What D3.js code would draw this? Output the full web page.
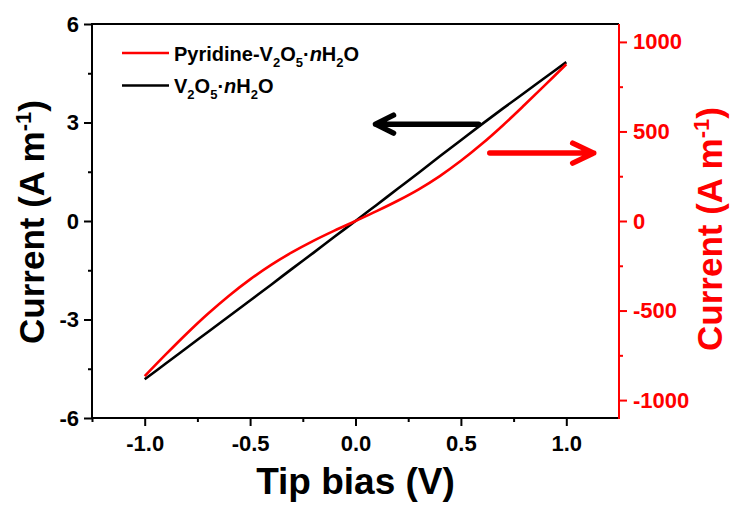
<!DOCTYPE html>
<html>
<head>
<meta charset="utf-8">
<script src="https://cdn.jsdelivr.net/npm/d3@7"></script>
<style>
  html, body { margin: 0; padding: 0; background: #fff; }
  svg { display: block; font-family: 'Liberation Sans', Arial, sans-serif; font-weight: bold; }
</style>
</head>
<body>
<svg id="chart" width="731" height="506"></svg>
<script>
// ── data ─────────────────────────────────────────
const bias = [-1, -0.9, -0.8, -0.7, -0.6, -0.5, -0.4, -0.3, -0.2, -0.1, 0,
              0.1, 0.2, 0.3, 0.4, 0.5, 0.6, 0.7, 0.8, 0.9, 1];
// V2O5·nH2O, left axis (A m-1)
const currentPlain = [-4.82, -4.34, -3.86, -3.38, -2.9, -2.42, -1.94, -1.45, -0.97, -0.48, 0,
                      0.49, 0.98, 1.47, 1.97, 2.46, 2.95, 3.43, 3.9, 4.37, 4.84];
// Pyridine-V2O5·nH2O, right axis (A m-1)
const currentPyr = [-866, -745, -628, -518, -417, -326, -245, -174, -111, -54, 0,
                    55, 113, 177, 251, 336, 431, 535, 646, 760, 875];

const xTicks = [-1, -0.5, 0, 0.5, 1];
const xMinor = [-1.25, -0.75, -0.25, 0.25, 0.75];
const yLeftTicks = [-6, -3, 0, 3, 6];
const yLeftMinor = [-4.5, -1.5, 1.5, 4.5];
const yRightTicks = [-1000, -500, 0, 500, 1000];
const yRightMinor = [-750, -250, 250, 750];

// ── layout ───────────────────────────────────────
const L = 92, R = 619, T = 24, B = 418;
const RED = '#ff0000';
const FONT = "'Liberation Sans', Arial, sans-serif";

const svg = d3.select('#chart');

const x = d3.scaleLinear().domain([-1.25, 1.25]).range([L, R]);
const yL = d3.scaleLinear().domain([-6, 6]).range([B, T]);
const yR = d3.scaleLinear().domain([-1100, 1100]).range([B, T]);

// ── axes ─────────────────────────────────────────
function styleAxis(g, color, size) {
	g.select('.domain').remove();
	g.selectAll('line').attr('stroke', color).attr('stroke-width', 2);
	g.selectAll('text').attr('fill', color).attr('font-size', size)
		.attr('font-family', FONT).attr('font-weight', 'bold');
}

svg.append('g').attr('transform', `translate(0,${B})`)
	.call(d3.axisBottom(x).tickValues(xMinor).tickSize(4).tickFormat(''))
	.call(g => styleAxis(g, '#000', 0));
svg.append('g').attr('transform', `translate(0,${B})`)
	.call(d3.axisBottom(x).tickValues(xTicks).tickSize(8).tickPadding(9).tickFormat(d => d.toFixed(1)))
	.call(g => styleAxis(g, '#000', 22));

svg.append('g').attr('transform', `translate(${L},0)`)
	.call(d3.axisLeft(yL).tickValues(yLeftMinor).tickSize(4).tickFormat(''))
	.call(g => styleAxis(g, '#000', 0));
svg.append('g').attr('transform', `translate(${L},0)`)
	.call(d3.axisLeft(yL).tickValues(yLeftTicks).tickSize(8).tickPadding(5).tickFormat(d => String(d)))
	.call(g => styleAxis(g, '#000', 22));

svg.append('g').attr('transform', `translate(${R},0)`)
	.call(d3.axisRight(yR).tickValues(yRightMinor).tickSize(4).tickFormat(''))
	.call(g => styleAxis(g, RED, 0));
svg.append('g').attr('transform', `translate(${R},0)`)
	.call(d3.axisRight(yR).tickValues(yRightTicks).tickSize(8).tickPadding(6).tickFormat(d => String(d)))
	.call(g => styleAxis(g, RED, 22));

// frame
svg.append('path').attr('d', `M${R},${T}H${L}V${B}H${R}`)
	.attr('fill', 'none').attr('stroke', '#000').attr('stroke-width', 2);
svg.append('line').attr('x1', R).attr('x2', R).attr('y1', T).attr('y2', B + 1)
	.attr('stroke', RED).attr('stroke-width', 2);

// ── axis titles ──────────────────────────────────
svg.append('text')
	.attr('x', (L + R) / 2).attr('y', 494)
	.attr('text-anchor', 'middle').attr('font-size', 37)
	.text('Tip bias (V)');

function yTitle(tx, ty, color) {
	const t = svg.append('text')
		.attr('transform', `translate(${tx},${ty}) rotate(-90)`)
		.attr('text-anchor', 'middle').attr('font-size', 35).attr('fill', color);
	t.append('tspan').text('Current (A m');
	t.append('tspan').attr('dy', -13).attr('font-size', 22).text('-1');
	t.append('tspan').attr('dy', 13).text(')');
}
yTitle(44, 222, '#000');
yTitle(722, 229, RED);

// ── curves ───────────────────────────────────────
const linePlain = d3.line().x((d, i) => x(bias[i])).y(d => yL(d)).curve(d3.curveCatmullRom);
const linePyr = d3.line().x((d, i) => x(bias[i])).y(d => yR(d)).curve(d3.curveCatmullRom);

svg.append('path').datum(currentPlain).attr('d', linePlain)
	.attr('fill', 'none').attr('stroke', '#000').attr('stroke-width', 2.6);
svg.append('path').datum(currentPyr).attr('d', linePyr)
	.attr('fill', 'none').attr('stroke', RED).attr('stroke-width', 2.6);

// ── arrows (which axis each curve belongs to) ────
function arrow(x0, x1, yy, color, hx, hy) {
	const dir = Math.sign(x1 - x0);
	svg.append('path')
		.attr('d', `M${x0},${yy}H${x1}M${x1 - dir * hx},${yy - hy}L${x1},${yy}L${x1 - dir * hx},${yy + hy}`)
		.attr('fill', 'none').attr('stroke', color).attr('stroke-width', 5.5)
		.attr('stroke-linecap', 'round').attr('stroke-linejoin', 'round');
}
arrow(x(0.584), x(0.095), yL(2.95), '#000', 18, 9);
arrow(x(0.637), x(1.13), yR(379), RED, 21, 10);

// ── legend ───────────────────────────────────────
const legend = [
	{ color: RED, parts: [['Pyridine-V'], ['2', 's'], ['O'], ['5', 's'], ['·'], ['n', 'i'], ['H'], ['2', 's'], ['O']] },
	{ color: '#000', parts: [['V'], ['2', 's'], ['O'], ['5', 's'], ['·'], ['n', 'i'], ['H'], ['2', 's'], ['O']] },
];
legend.forEach((item, k) => {
	const ly = 53 + k * 32.5;
	svg.append('line').attr('x1', 122).attr('x2', 169).attr('y1', ly).attr('y2', ly)
		.attr('stroke', item.color).attr('stroke-width', 2.6);
	const t = svg.append('text').attr('x', 174).attr('y', ly + 7.5).attr('font-size', 20);
	let shifted = false;
	item.parts.forEach(([s, kind]) => {
		const ts = t.append('tspan').text(s);
		if (kind === 's') {
			ts.attr('font-size', 13).attr('dy', 6);
			shifted = true;
		} else {
			if (shifted) { ts.attr('dy', -6); shifted = false; }
			if (kind === 'i') ts.attr('font-style', 'italic');
		}
	});
});
</script>
</body>
</html>
